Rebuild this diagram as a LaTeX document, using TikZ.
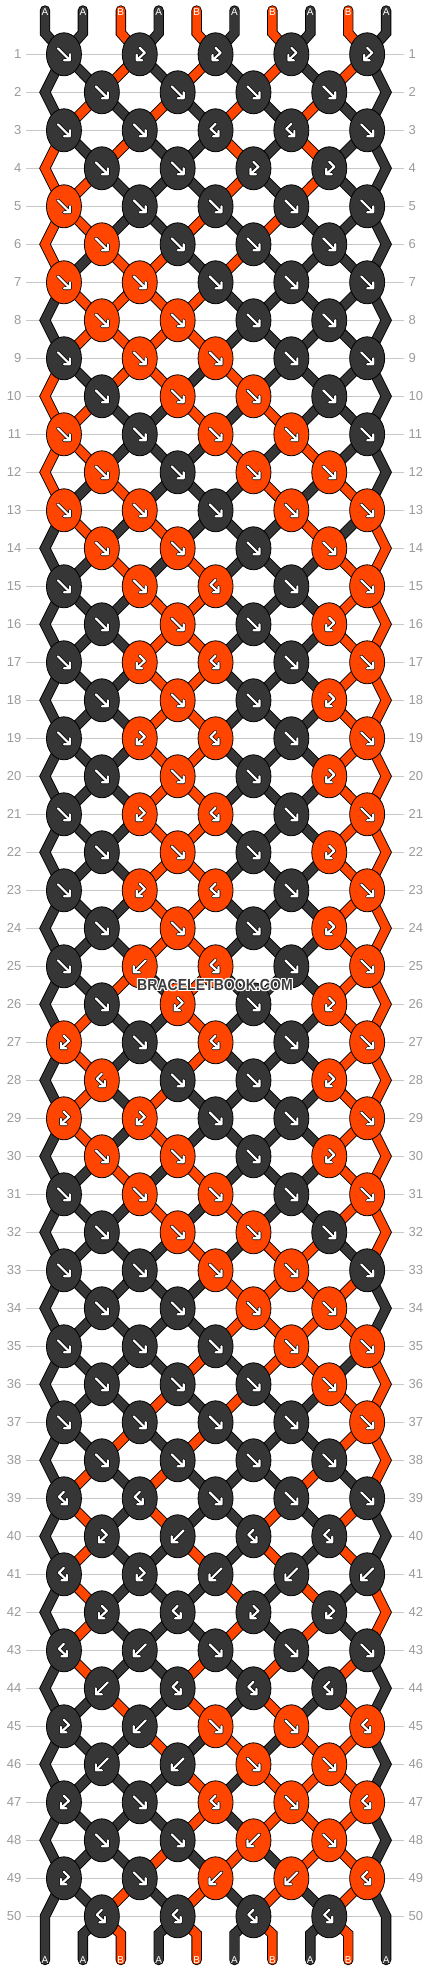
\documentclass[tikz,border=0pt]{standalone}
\usepackage{fontspec}
\setmainfont{Liberation Sans}
\usetikzlibrary{shapes.geometric}
\definecolor{cA}{HTML}{363636}
\definecolor{cB}{HTML}{FF4500}
\definecolor{gridc}{HTML}{C8C8C8}
\definecolor{numc}{HTML}{9B9B9B}
\definecolor{wmc}{HTML}{3C3C3C}
\tikzset{
  knotbox/.style={ellipse, draw=black, line width=0.8pt, minimum width=35pt, minimum height=43pt, inner sep=0pt},
  rownum/.style={text=numc, font=\fontsize{13}{13}\selectfont, inner sep=0pt},
  endlabel/.style={text=white, font=\fontsize{10}{10}\selectfont, inner sep=0pt},
  gridline/.style={draw=gridc, line width=1pt},
  strandout/.style={draw=black, line width=10.4pt, line cap=round},
  strandin/.style={line width=8.6pt, line cap=round},
  glyphout/.style={draw=black, line width=3.6pt, line cap=round, line join=round},
  glyphin/.style={draw=white, line width=2.2pt, line cap=round, line join=round},
  wmark/.style={font=\bfseries\fontsize{16}{16}\selectfont, inner sep=0pt},
}
\newcommand\rowdef[2]{\expandafter\def\csname rd#1\endcsname{#2}}
\newcommand\strand[2]{\draw[strandout] #2;\draw[strandin,draw=#1] #2;}
\newcommand\glyph[1]{\draw[glyphout] #1;\draw[glyphin] #1;}
\rowdef{1}{f,r,r,r,r}
\rowdef{2}{f,f,f,f}
\rowdef{3}{f,f,l,l,f}
\rowdef{4}{f,f,r,r}
\rowdef{5}{f,f,f,f,f}
\rowdef{6}{f,f,f,f}
\rowdef{7}{f,f,f,f,f}
\rowdef{8}{f,f,f,f}
\rowdef{9}{f,f,f,f,f}
\rowdef{10}{f,f,f,f}
\rowdef{11}{f,f,f,f,f}
\rowdef{12}{f,f,f,f}
\rowdef{13}{f,f,f,f,f}
\rowdef{14}{f,f,f,f}
\rowdef{15}{f,f,l,f,f}
\rowdef{16}{f,f,f,r}
\rowdef{17}{f,r,l,f,f}
\rowdef{18}{f,f,f,r}
\rowdef{19}{f,r,l,f,f}
\rowdef{20}{f,f,f,r}
\rowdef{21}{f,r,l,f,f}
\rowdef{22}{f,f,f,r}
\rowdef{23}{f,r,l,f,f}
\rowdef{24}{f,f,f,r}
\rowdef{25}{f,b,l,f,f}
\rowdef{26}{f,r,f,r}
\rowdef{27}{r,f,l,f,f}
\rowdef{28}{l,f,f,r}
\rowdef{29}{r,r,f,f,f}
\rowdef{30}{f,f,f,r}
\rowdef{31}{f,f,f,f,f}
\rowdef{32}{f,f,f,f}
\rowdef{33}{f,f,f,f,f}
\rowdef{34}{f,f,f,f}
\rowdef{35}{f,f,f,f,f}
\rowdef{36}{f,f,f,f}
\rowdef{37}{f,f,f,f,f}
\rowdef{38}{f,f,f,f}
\rowdef{39}{l,l,f,f,f}
\rowdef{40}{r,b,l,l}
\rowdef{41}{l,r,b,b,b}
\rowdef{42}{r,l,r,r}
\rowdef{43}{l,b,f,f,f}
\rowdef{44}{b,l,l,l}
\rowdef{45}{r,b,f,f,l}
\rowdef{46}{b,b,f,f}
\rowdef{47}{r,f,l,f,l}
\rowdef{48}{f,f,b,f}
\rowdef{49}{r,f,b,b,l}
\rowdef{50}{l,l,l,l}
\begin{document}
\begin{tikzpicture}[x=1pt,y=-1pt]
\useasboundingbox (0,0) rectangle (430,1972);
\fill[white] (0,0) rectangle (430,1972);
% row lines and numbers
\foreach \rw in {1,...,50}{
  \pgfmathsetmacro\yy{54.3+38*(\rw-1)}
  \draw[gridline] (26,\yy) -- (404,\yy);
  \node[rownum, anchor=east] (ln\rw) at (21.5,\yy) {\rw};
  \node[rownum, anchor=west] (rn\rw) at (408.5,\yy) {\rw};
}
% top ends
\foreach \ch [count=\j from 0] in {A,A,B,A,B,A,B,A,B,A}{
  \pgfmathsetmacro\xx{45+37.9*\j}
  \coordinate (top\j) at (\xx,10.5);
  \coordinate (bend\j) at (\xx,33);
  \expandafter\xdef\csname col\j\endcsname{c\ch}
  \expandafter\xdef\csname src\j\endcsname{top\j}
}
% pass 1: simulate strings and draw strands
\foreach \rw in {1,...,50}{
  \pgfmathsetmacro\yy{54.3+38*(\rw-1)}
  \pgfmathsetmacro\yprev{\yy-38}
  \pgfmathtruncatemacro\oddrow{mod(\rw,2)}
  \edef\rowlist{\csname rd\rw\endcsname}
  \foreach \ty [count=\kk from 0] in \rowlist {
    \ifnum\oddrow=1
      \pgfmathtruncatemacro\posL{2*\kk}
      \pgfmathsetmacro\xx{63.95+75.8*\kk}
    \else
      \pgfmathtruncatemacro\posL{2*\kk+1}
      \pgfmathsetmacro\xx{101.85+75.8*\kk}
    \fi
    \pgfmathtruncatemacro\posR{\posL+1}
    \edef\colL{\csname col\posL\endcsname}
    \edef\colR{\csname col\posR\endcsname}
    \edef\srcL{\csname src\posL\endcsname}
    \edef\srcR{\csname src\posR\endcsname}
    \def\sw{0}\let\kc\colL
    \if\ty f\def\sw{1}\fi
    \if\ty b\def\sw{1}\let\kc\colR\fi
    \if\ty r\let\kc\colR\fi
    \coordinate (c-\rw-\kk) at (\xx,\yy);
    \expandafter\xdef\csname kc-\rw-\kk\endcsname{\kc}
    \ifnum\rw=1
      \strand{\colL}{(top\posL) -- (bend\posL) -- (c-\rw-\kk)}
      \strand{\colR}{(top\posR) -- (bend\posR) -- (c-\rw-\kk)}
    \else
      \ifnum\posL=0
        \strand{\colL}{(\srcL) -- (45,\yprev) -- (c-\rw-\kk)}
      \else
        \strand{\colL}{(\srcL) -- (c-\rw-\kk)}
      \fi
      \ifnum\posR=9
        \strand{\colR}{(\srcR) -- (386.1,\yprev) -- (c-\rw-\kk)}
      \else
        \strand{\colR}{(\srcR) -- (c-\rw-\kk)}
      \fi
    \fi
    \expandafter\xdef\csname src\posL\endcsname{c-\rw-\kk}
    \expandafter\xdef\csname src\posR\endcsname{c-\rw-\kk}
    \ifnum\sw=1
      \expandafter\xdef\csname col\posL\endcsname{\colR}
      \expandafter\xdef\csname col\posR\endcsname{\colL}
    \fi
  }
}
% bottom ends
\def\tmpA{cA}
\foreach \j in {0,...,9}{
  \pgfmathsetmacro\xx{45+37.9*\j}
  \edef\srcj{\csname src\j\endcsname}
  \edef\colj{\csname col\j\endcsname}
  \coordinate (bot\j) at (\xx,1960);
  \ifnum\j=0
    \strand{\colj}{(\srcj) -- (\xx,1916.3) -- (bot\j)}
  \else\ifnum\j=9
    \strand{\colj}{(\srcj) -- (\xx,1916.3) -- (bot\j)}
  \else
    \strand{\colj}{(\srcj) -- (\xx,1934) -- (bot\j)}
  \fi\fi
  \ifx\colj\tmpA\def\lab{A}\else\def\lab{B}\fi
  \node[endlabel] (bl\j) at (\xx,1960.5) {\lab};
}
% top labels
\foreach \ch [count=\j from 0] in {A,A,B,A,B,A,B,A,B,A}{
  \pgfmathsetmacro\xx{45+37.9*\j}
  \node[endlabel] (tl\j) at (\xx,12.5) {\ch};
}
% pass 2: knots
\foreach \rw in {1,...,50}{
  \edef\rowlist{\csname rd\rw\endcsname}
  \foreach \ty [count=\kk from 0] in \rowlist {
    \edef\kc{\csname kc-\rw-\kk\endcsname}
    \node[knotbox, fill=\kc] (k-\rw-\kk) at (c-\rw-\kk) {};
    \begin{scope}[shift={(c-\rw-\kk)}]
      \if\ty f\glyph{(-6,-6) -- (6,6) (0,6) -- (6,6) -- (6,0)}\fi
      \if\ty b\glyph{(6,-6) -- (-6,6) (0,6) -- (-6,6) -- (-6,0)}\fi
      \if\ty r\glyph{(0,-6.5) -- (5,-1.5) -- (-3,6) (-3,0.5) -- (-3,6) -- (2.5,6)}\fi
      \if\ty l\glyph{(0,-6.5) -- (-5,-1.5) -- (3,6) (3,0.5) -- (3,6) -- (-2.5,6)}\fi
    \end{scope}
  }
}
% watermark
\foreach \dx/\dy [count=\h] in {-1/0,1/0,0/-1,0/1,-1/-1,1/1,-1/1,1/-1}{
  \node[wmark, text=white, xshift=\dx pt, yshift=\dy pt] (wmh\h) at (215,985) {\scalebox{0.88}[1]{BRACELETBOOK.COM}};
}
\node[wmark, text=wmc] (wm) at (215,985) {\scalebox{0.88}[1]{BRACELETBOOK.COM}};
\end{tikzpicture}
\end{document}
